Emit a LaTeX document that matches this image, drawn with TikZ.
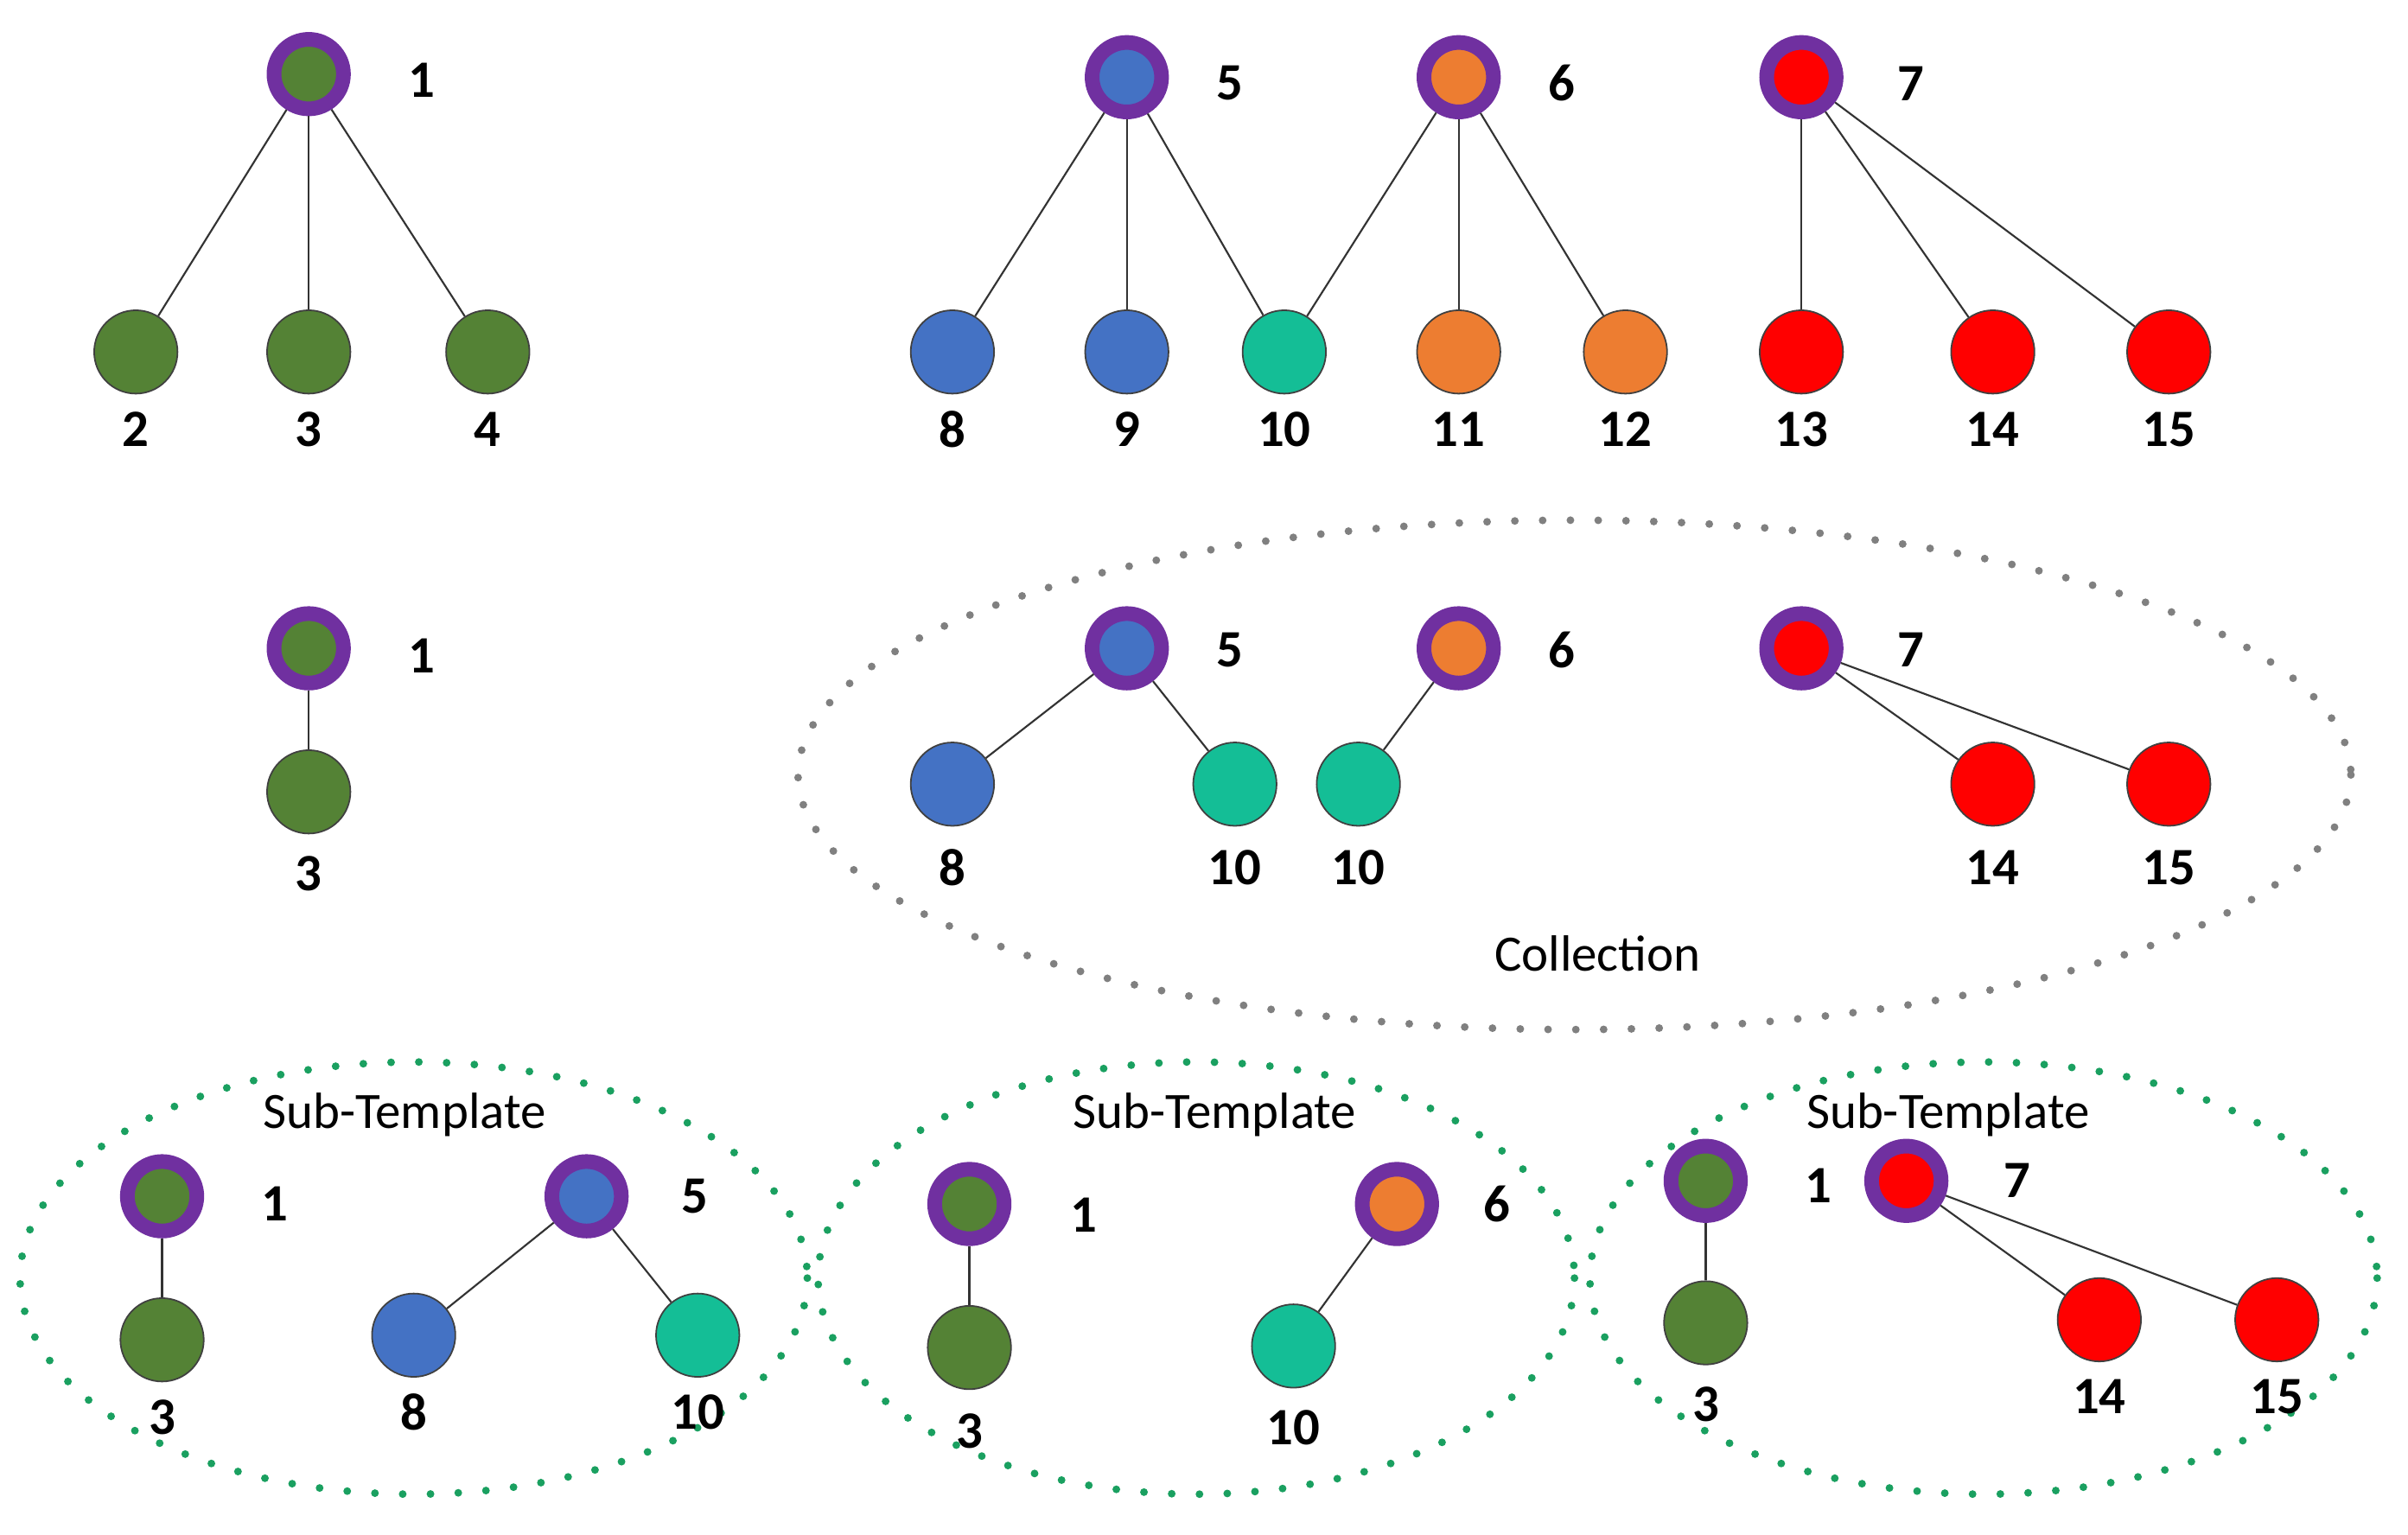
\documentclass[tikz,border=0pt]{standalone}
\usepackage{fontspec}
\setmainfont{Carlito}
\begin{document}
\begin{tikzpicture}[x=1pt,y=-1pt,
 root/.style={circle,minimum size=45pt,inner sep=0pt,fill=#1,draw=purp,line width=9.5pt},
 leaf/.style={circle,minimum size=54pt,inner sep=0pt,fill=#1,draw=black!75,line width=1pt},
 lab/.style={font=\fontsize{34}{34}\selectfont\bfseries},
 txt/.style={font=\fontsize{33}{33}\selectfont},
 e/.style={draw=black!80,line width=1.2pt},
 dots/.style={line width=5pt,line cap=round,dash pattern=on 0pt off 18pt}]
\definecolor{purp}{HTML}{7030A0}
\definecolor{gr}{HTML}{548235}
\definecolor{bl}{HTML}{4472C4}
\definecolor{te}{HTML}{14BE96}
\definecolor{orn}{HTML}{ED7D31}
\definecolor{rd}{HTML}{FF0000}
\definecolor{dg}{HTML}{1AA060}
\useasboundingbox (0,0) rectangle (1560,994);
% top row
\node[root=gr] (a1) at (200,48) {}; \node[lab] at (273,52) {1};
\foreach \n/\x in {2/88,3/200,4/316}{\node[leaf=gr] (a\n) at (\x,228) {}; \node[lab] at (\x,278) {\n}; \draw[e] (a1) -- (a\n);}
\node[root=bl] (a5) at (730,50) {}; \node[lab] at (797,54) {5};
\node[root=orn] (a6) at (945,50) {}; \node[lab] at (1012,54) {6};
\node[root=rd] (a7) at (1167,50) {}; \node[lab] at (1238,54) {7};
\foreach \n/\x/\c in {8/617/bl,9/730/bl,10/832/te,11/945/orn,12/1053/orn,13/1167/rd,14/1291/rd,15/1405/rd}{\node[leaf=\c] (a\n) at (\x,228) {}; \node[lab] at (\x,278) {\n};}
\foreach \p/\q in {5/8,5/9,5/10,6/10,6/11,6/12,7/13,7/14,7/15}{\draw[e] (a\p) -- (a\q);}
% middle
\node[root=gr] (b1) at (200,420) {}; \node[lab] at (273,425) {1};
\node[leaf=gr] (b3) at (200,513) {}; \node[lab] at (200,566) {3};
\draw[e] (b1) -- (b3);
\draw[dots,draw=gray] (1020,502) ellipse [x radius=503, y radius=165];
\node[root=bl] (b5) at (730,420) {}; \node[lab] at (797,421) {5};
\node[root=orn] (b6) at (945,420) {}; \node[lab] at (1012,421) {6};
\node[root=rd] (b7) at (1167,420) {}; \node[lab] at (1238,421) {7};
\node[leaf=bl] (b8) at (617,508) {}; \node[lab] at (617,562) {8};
\node[leaf=te] (b10) at (800,508) {}; \node[lab] at (800,562) {10};
\node[leaf=te] (b10b) at (880,508) {}; \node[lab] at (880,562) {10};
\node[leaf=rd] (b14) at (1291,508) {}; \node[lab] at (1291,562) {14};
\node[leaf=rd] (b15) at (1405,508) {}; \node[lab] at (1405,562) {15};
\foreach \p/\q in {5/8,5/10,6/10b,7/14,7/15}{\draw[e] (b\p) -- (b\q);}
\node[txt] at (1035,618) {Collection};
% bottom
\draw[dots,draw=dg] (268,828) ellipse [x radius=255, y radius=140];
\draw[dots,draw=dg] (775,828) ellipse [x radius=245, y radius=140];
\draw[dots,draw=dg] (1285,828) ellipse [x radius=255, y radius=140];
\node[txt] at (262,722) {Sub-Template};
\node[txt] at (787,722) {Sub-Template};
\node[txt] at (1262,722) {Sub-Template};
% group 1
\node[root=gr] (c1) at (105,775) {}; \node[lab] at (178,780) {1};
\node[leaf=gr] (c3) at (105,868) {}; \node[lab] at (105,918) {3};
\node[root=bl] (c5) at (380,775) {}; \node[lab] at (450,775) {5};
\node[leaf=bl] (c8) at (268,865) {}; \node[lab] at (268,915) {8};
\node[leaf=te] (c10) at (452,865) {}; \node[lab] at (452,915) {10};
\draw[e] (c1) -- (c3); \draw[e] (c5) -- (c8); \draw[e] (c5) -- (c10);
% group 2
\node[root=gr] (d1) at (628,780) {}; \node[lab] at (702,787) {1};
\node[leaf=gr] (d3) at (628,873) {}; \node[lab] at (628,927) {3};
\node[root=orn] (d6) at (905,780) {}; \node[lab] at (970,780) {6};
\node[leaf=te] (d10) at (838,872) {}; \node[lab] at (838,925) {10};
\draw[e] (d1) -- (d3); \draw[e] (d6) -- (d10);
% group 3
\node[root=gr] (f1) at (1105,765) {}; \node[lab] at (1178,768) {1};
\node[leaf=gr] (f3) at (1105,857) {}; \node[lab] at (1105,910) {3};
\node[root=rd] (f7) at (1235,765) {}; \node[lab] at (1307,765) {7};
\node[leaf=rd] (f14) at (1360,855) {}; \node[lab] at (1360,905) {14};
\node[leaf=rd] (f15) at (1475,855) {}; \node[lab] at (1475,905) {15};
\draw[e] (f1) -- (f3); \draw[e] (f7) -- (f14); \draw[e] (f7) -- (f15);
\end{tikzpicture}
\end{document}
